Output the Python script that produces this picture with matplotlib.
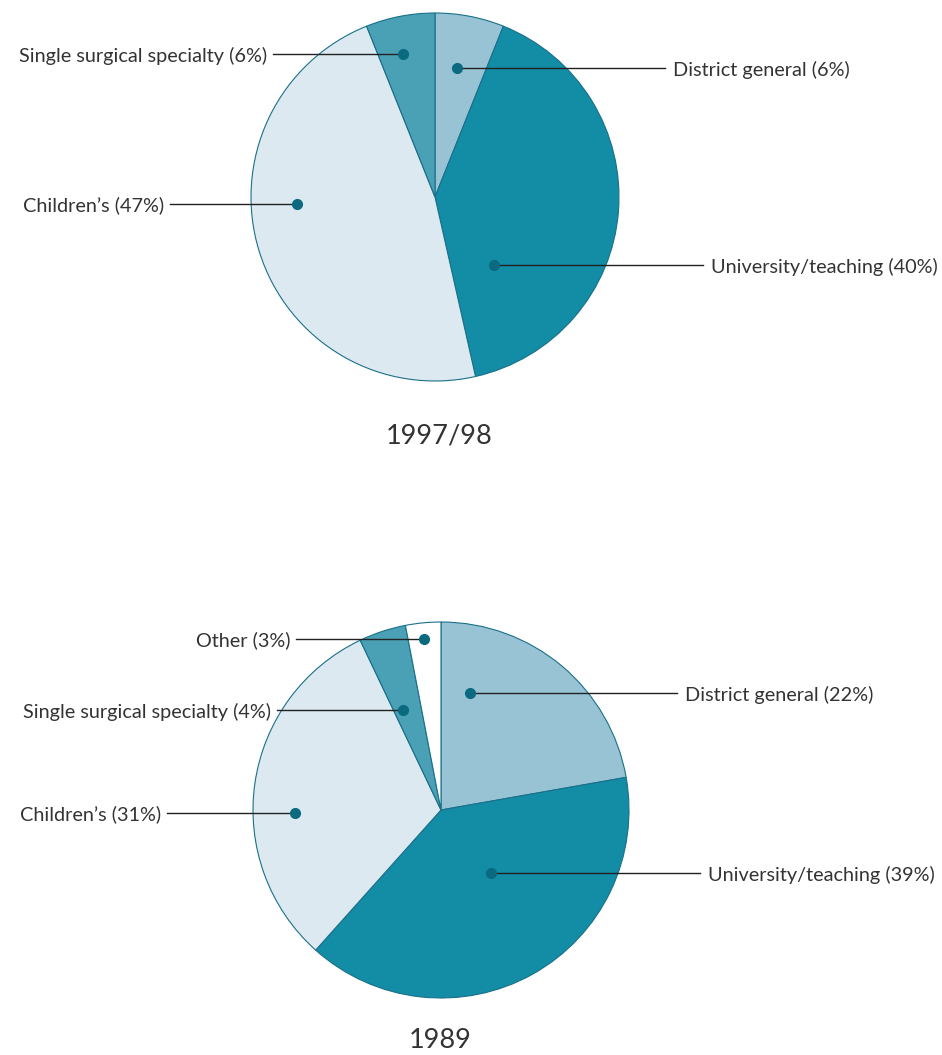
import numpy as np
import matplotlib
matplotlib.use("Agg")
import matplotlib.pyplot as plt

# ---- data ----
cats_9798 = ["District general", "University/teaching", "Children\u2019s", "Single surgical specialty"]
vals_9798 = [6, 40, 47, 6]
cats_1989 = ["District general", "University/teaching", "Children\u2019s", "Single surgical specialty", "Other"]
vals_1989 = [22, 39, 31, 4, 3]
titles = ["1997/98", "1989"]

colors = {
    "District general": "#97c3d4",
    "University/teaching": "#138ca6",
    "Children\u2019s": "#dce9f0",
    "Single surgical specialty": "#4aa1b6",
    "Other": "#ffffff",
}

W, H = 942, 1055
plt.rcParams['font.family'] = ['Lato', 'DejaVu Sans']
fig = plt.figure(figsize=(W / 100, H / 100), dpi=100)
ax = fig.add_axes([0, 0, 1, 1])

TXT = "#333333"
DOT = "#0b6a80"
EDGE = "#1a7089"

def Y(y):
    return H - y

layouts = [
    dict(center=(435, 197), R=184, title_xy=(439, 436),
         labels={
             "District general": (80.3, 0.711, 665, "right"),
             "University/teaching": (-49.1, 0.489, 703, "right"),
             "Children\u2019s": (182.9, 0.751, 170, "left"),
             "Single surgical specialty": (102.6, 0.796, 273, "left"),
         }),
    dict(center=(441, 810), R=188, title_xy=(440, 1041),
         labels={
             "District general": (76.1, 0.641, 677, "right"),
             "University/teaching": (-51.6, 0.428, 700, "right"),
             "Children\u2019s": (181.2, 0.777, 167, "left"),
             "Single surgical specialty": (110.8, 0.569, 277, "left"),
             "Other": (95.7, 0.914, 296, "left"),
         }),
]

for cats, vals, title, lay in zip([cats_9798, cats_1989], [vals_9798, vals_1989], titles, layouts):
    cx, cy = lay["center"][0], Y(lay["center"][1])
    R = lay["R"]
    ax.pie(vals, colors=[colors[c] for c in cats], startangle=90, counterclock=False,
           center=(cx, cy), radius=R, frame=True,
           wedgeprops=dict(edgecolor=EDGE, linewidth=0.8))
    for c, v in zip(cats, vals):
        ang, rf, xend, side = lay["labels"][c]
        a = np.deg2rad(ang)
        dx = cx + rf * R * np.cos(a)
        dy = cy + rf * R * np.sin(a)
        ax.plot([dx, xend], [dy, dy], color="#222222", lw=1.0, zorder=5)
        ax.plot([dx], [dy], "o", color=DOT, ms=7, zorder=6)
        label = f"{c} ({v}%)"
        if side == "right":
            ax.text(xend + 8, dy - 1.5, label, ha="left", va="center", fontsize=14.3,
                    color=TXT)
        else:
            ax.text(xend - 6, dy - 1.5, label, ha="right", va="center", fontsize=14.3,
                    color=TXT)
    tx, ty = lay["title_xy"]
    ax.text(tx, Y(ty), title, ha="center", va="center", fontsize=19.5, color=TXT)

ax.set_xlim(0, W)
ax.set_ylim(0, H)
ax.set_aspect("equal")
ax.axis("off")
fig.savefig("out.png", dpi=100)
